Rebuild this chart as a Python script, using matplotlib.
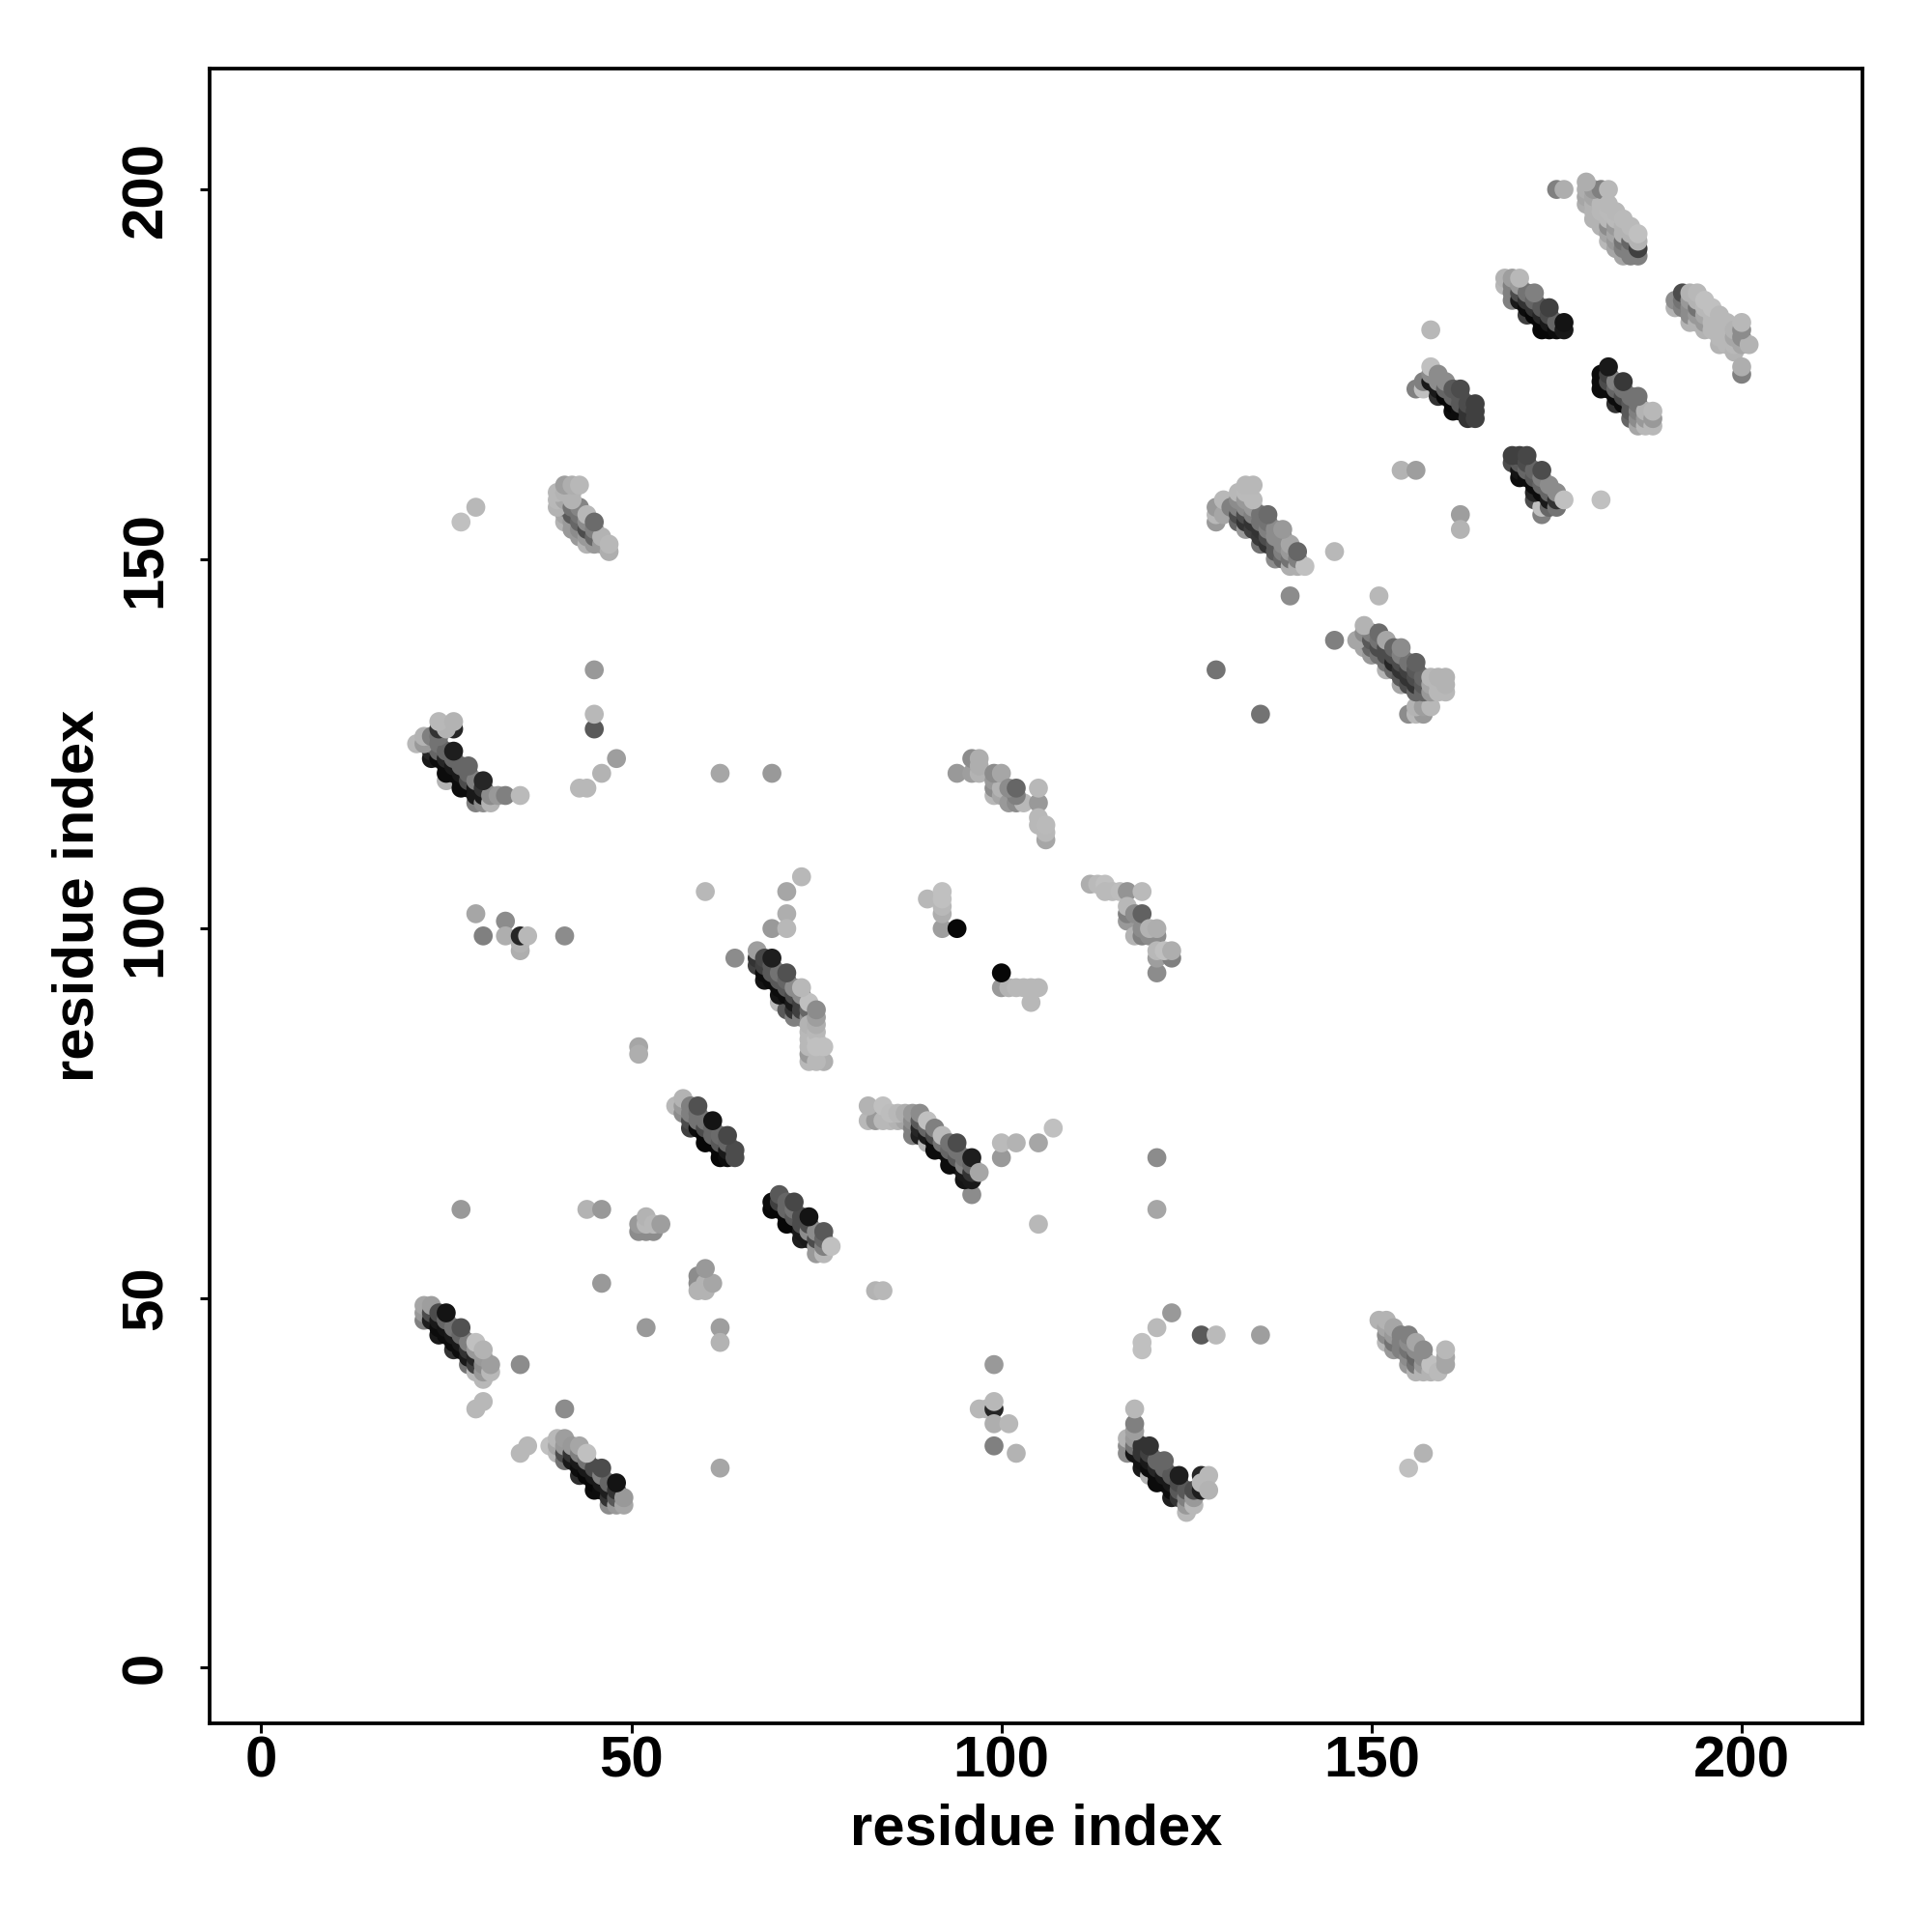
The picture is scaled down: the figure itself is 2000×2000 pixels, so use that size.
import numpy as np
import matplotlib
matplotlib.use("Agg")
import matplotlib.pyplot as plt

# contacts: (residue i, residue j, grey level), drawn in this order
pair_a = [(22,47,.5),(24,45,.1),(26,43,.2),(28,41,.45),(29,40,.72),(30,39,.72),
          (22,48,.6),(23,47,.12),(24,46,.05),(25,45,.05),(26,44,.05),(27,43,.05),(28,42,.1),(29,41,.25),(30,40,.6),
          (22,49,.65),(23,48,.3),(24,47,.1),(25,46,.08),(26,45,.1),(27,44,.1),(28,43,.2),(29,42,.15),(30,41,.55),(31,40,.72),
          (23,49,.62),(24,48,.3),(25,47,.4),(26,46,.45),(27,45,.4),(28,44,.5),(29,43,.6),(30,42,.6),(31,41,.62),
          (25,48,.08),(27,46,.32),(29,44,.75),(30,43,.7)]
pair_b = [(39,30,.75),(40,29,.72),(41,28,.45),(43,26,.18),(45,24,.05),(47,22,.55),
          (40,30,.65),(41,29,.3),(42,28,.1),(43,27,.05),(44,26,.03),(45,25,.03),(46,24,.05),(47,23,.2),(48,22,.6),
          (40,31,.72),(41,30,.6),(42,29,.2),(43,28,.1),(44,27,.1),(45,26,.1),(46,25,.1),(47,24,.12),(48,23,.35),(49,22,.65),
          (41,31,.62),(42,30,.6),(43,29,.5),(44,28,.45),(45,27,.3),(46,26,.5),(47,25,.4),(48,24,.2),(49,23,.6),
          (43,30,.65),(44,29,.75),(46,27,.3),(48,25,.08)]
pair_c = [(25,120,.7),(23,123,.1),(25,121,.05),(27,119,.05),(29,117,.5),
          (23,124,.15),(24,123,.05),(25,122,.05),(26,121,.05),(27,120,.05),(28,119,.05),(29,118,.1),(30,117,.55),
          (23,125,.45),(24,124,.4),(25,123,.15),(26,122,.1),(27,121,.1),(28,120,.3),(29,119,.1),(30,118,.1),(31,117,.7),
          (21,125,.72),(22,125,.6),(22,126,.7),(23,126,.5),(24,125,.45),(25,124,.4),(26,123,.4),(27,122,.4),(28,121,.4),(29,120,.5),(30,119,.2),(31,118,.55),
          (24,126,.45),(26,124,.12),(28,122,.4),(30,120,.15),(32,118,.6),(33,118,.5),(35,118,.73),
          (24,127,.2),(26,127,.15),(25,127,.7),(24,128,.72),(26,128,.7)]
pair_d = [(41,155,.7),(42,154,.6),(43,153,.6),(44,152,.7),
          (41,156,.65),(42,155,.6),(43,154,.55),(44,153,.6),(45,152,.6),
          (41,157,.5),(42,156,.35),(43,155,.4),(44,154,.3),(45,153,.4),(46,152,.6),(47,151,.68),
          (40,157,.7),(40,158,.72),(41,158,.65),(42,157,.45),(43,156,.45),(44,155,.55),(45,154,.5),(46,153,.7),(47,152,.72),
          (43,157,.52),(44,156,.72),(45,155,.42),
          (40,159,.72),(41,159,.7),(42,158,.7),(42,159,.7),(41,160,.62),(42,160,.68),(43,160,.72)]
pair_e = [(117,29,.55),(119,27,.1),(120,26,.7),(121,25,.05),(123,23,.12),(125,21,.72),
          (117,30,.55),(118,29,.08),(119,28,.08),(120,27,.05),(121,26,.05),(122,25,.05),(123,24,.05),(124,23,.2),(125,22,.6),
          (117,31,.7),(118,30,.45),(119,29,.2),(120,28,.1),(121,27,.15),(122,26,.1),(123,25,.1),(124,24,.35),(125,23,.5),(126,22,.72),
          (118,31,.6),(119,30,.2),(120,29,.25),(121,28,.4),(122,27,.4),(123,26,.35),(124,25,.3),(125,24,.35),(126,23,.6),
          (120,30,.2),(122,28,.4),(124,26,.12),(126,24,.3),
          (118,32,.62),(118,33,.5),(118,35,.72),(127,24,.12),(127,26,.15),(127,25,.72),(128,26,.72),(128,24,.7)]
pair_f = [(152,44,.72),(153,43,.6),(155,41,.6),(156,40,.7),
          (152,45,.55),(153,44,.45),(154,43,.5),(155,42,.55),(156,41,.45),(157,40,.7),
          (151,47,.7),(152,46,.65),(153,45,.6),(154,44,.5),(155,43,.45),(156,42,.4),(157,41,.6),(158,40,.7),
          (152,47,.7),(153,46,.65),(154,45,.5),(155,44,.55),(156,43,.55),(157,42,.55),(158,41,.75),(159,40,.73),
          (155,45,.5),(156,44,.65),(157,43,.55),(160,41,.65),(160,42,.65),(160,43,.72)]
pair_g = [(56,76,.72),(58,73,.25),(60,71,.03),(62,69,.03),
          (57,75,.55),(58,74,.3),(59,73,.05),(60,72,.03),(61,71,.03),(62,70,.03),(63,69,.05),
          (57,76,.6),(58,75,.5),(59,74,.45),(60,73,.3),(61,72,.4),(62,71,.35),(63,70,.1),(64,69,.3),
          (57,77,.7),(58,76,.5),(59,75,.45),(60,74,.45),(61,73,.4),(62,72,.42),(63,71,.4),(64,70,.3),
          (59,76,.32),(61,74,.08),(63,72,.28)]
pair_h = [(69,62,.03),(71,60,.03),(73,58,.12),(75,56,.6),
          (69,63,.05),(70,62,.03),(71,61,.03),(72,60,.03),(73,59,.1),(74,58,.1),(75,57,.6),(76,56,.72),
          (70,63,.25),(71,62,.4),(72,61,.35),(73,60,.3),(74,59,.55),(75,58,.3),(76,57,.5),
          (70,64,.35),(71,63,.4),(72,62,.45),(73,61,.3),(74,60,.3),(75,59,.55),(76,58,.4),
          (72,63,.28),(74,61,.08),(76,59,.35),(77,57,.75)]
pair_i = [(82,74,.72),(83,74,.6),(84,74,.72),(85,74,.72),(86,74,.7),(87,74,.65),(82,76,.7),(84,76,.75),(85,75,.74),(86,75,.72),(87,75,.68),
          (88,72,.5),(88,73,.5),(89,72,.12),(90,71,.7),(91,70,.05),(93,68,.05),(95,66,.08),
          (88,74,.55),(89,73,.15),(90,72,.1),(91,71,.05),(92,70,.05),(93,69,.05),(94,68,.05),(95,67,.1),(96,66,.1),
          (88,75,.6),(89,74,.35),(90,73,.4),(91,72,.3),(92,71,.45),(93,70,.4),(94,69,.35),(95,68,.5),(96,67,.2),
          (89,75,.55),(90,74,.75),(91,73,.5),(92,72,.73),(93,71,.45),(94,70,.45),(95,69,.45),(96,68,.4),
          (94,71,.3),(96,69,.12),(97,67,.65)]
pair_j = [(70,90,.72),(71,89,.35),(72,88,.5),
          (68,93,.08),(70,91,.08),(72,89,.2),(73,88,.5),
          (67,95,.25),(68,94,.05),(69,93,.05),(70,92,.05),(71,91,.05),(72,90,.1),(73,89,.25),(74,88,.55),
          (67,96,.2),(68,95,.25),(69,94,.35),(70,93,.35),(71,92,.35),(72,91,.3),(73,90,.25),(74,89,.4),
          (67,97,.62),(68,96,.28),(69,95,.35),(70,94,.45),(71,93,.4),(72,92,.55),(73,91,.55),(74,90,.75),
          (69,96,.12),(71,94,.32),(73,92,.72),
          (74,82,.72),(74,83,.6),(74,84,.72),(74,85,.72),(74,86,.72),(74,87,.7),(75,85,.75),(75,86,.72),(75,87,.68),(75,88,.62),(75,89,.55),
          (76,82,.68),(75,82,.72),(75,84,.75),(76,84,.75)]
pair_k = [(94,121,.6),(96,121,.62),(97,121,.7),(96,123,.55),(97,122,.68),(97,123,.68),
          (99,118,.72),(99,119,.55),(100,118,.65),(99,120,.6),(100,119,.7),(99,121,.55),(100,121,.65),
          (101,117,.6),(102,117,.55),(103,117,.72),(102,118,.5),(101,119,.55),(102,119,.4),
          (105,117,.6),(105,119,.72),(105,115,.72),(106,112,.65),(106,113,.72),(105,114,.72),(106,114,.73)]
pair_l = [(112,106,.68),(113,106,.73),(114,106,.75),(114,105,.73),(115,105,.73),(116,105,.74),(117,105,.58),(119,105,.73),
          (117,101,.6),(117,102,.5),(117,103,.72),(118,102,.55),(118,99,.7),(119,99,.5),(119,100,.55),(119,102,.38),
          (120,99,.55),(121,99,.55),(120,100,.7),(121,100,.68),
          (121,94,.55),(121,96,.62),(123,96,.5),(121,97,.72),(122,97,.75),(123,97,.68)]
pair_m = [(129,155,.6),(129,156,.72),(129,157,.6),(130,156,.65),(130,158,.72),
          (132,155,.4),(133,154,.6),(135,152,.45),(137,150,.55),
          (131,157,.5),(132,156,.3),(133,155,.2),(134,154,.25),(135,153,.22),(136,152,.2),(137,151,.35),(138,150,.4),(139,149,.68),
          (132,157,.5),(133,156,.3),(134,155,.2),(135,154,.2),(136,153,.3),(137,152,.35),(138,151,.5),(139,150,.45),(140,149,.68),
          (132,158,.55),(133,157,.55),(134,156,.5),(135,155,.45),(136,154,.5),(137,153,.55),(138,152,.55),(139,151,.6),(140,150,.5),(141,149,.75),
          (132,159,.72),(133,158,.6),(134,157,.6),(135,156,.45),(136,155,.45),(137,154,.55),(138,153,.55),(139,152,.65),(140,151,.4),
          (133,159,.73),(134,158,.73),(136,156,.42),(138,154,.6),(133,160,.72),(134,160,.72)]
pair_n = [(155,129,.55),(156,129,.72),(157,129,.6),(156,130,.7),(157,130,.62),(158,130,.72),
          (149,138,.65),(150,137,.6),(152,135,.7),(154,133,.65),
          (149,139,.55),(150,138,.4),(151,137,.45),(152,136,.45),(153,135,.4),(154,134,.35),(155,133,.3),(156,132,.4),
          (148,139,.65),(149,140,.55),(150,139,.35),(151,138,.3),(152,137,.3),(153,136,.15),(154,135,.2),(155,134,.2),(156,133,.2),(157,132,.4),
          (150,140,.5),(151,139,.45),(152,138,.3),(153,137,.3),(154,136,.3),(155,135,.25),(156,134,.3),(157,133,.35),(158,132,.6),
          (149,141,.7),(151,140,.42),(152,139,.65),(153,138,.4),(154,137,.5),(155,136,.45),(156,135,.35),(157,134,.4),(158,133,.65),(159,132,.72),
          (154,138,.55),(156,136,.38),(158,134,.72),(159,133,.72),(160,132,.72),(160,133,.7),(159,134,.7),(160,134,.7)]
pair_o = [(156,173,.5),(157,173,.75),
          (157,174,.5),(159,172,.2),(161,170,.05),
          (158,174,.1),(159,173,.1),(160,172,.03),(161,171,.03),(162,170,.05),(163,169,.2),
          (158,175,.55),(159,174,.55),(160,173,.4),(161,172,.4),(162,171,.35),(163,170,.2),(164,169,.25),
          (158,176,.75),(159,175,.55),(160,174,.55),(161,173,.35),(162,172,.35),(163,171,.3),(164,170,.25),
          (162,173,.3),(164,171,.25)]
pair_p = [(181,173,.05),(183,171,.2),(185,169,.4),(186,168,.65),
          (181,174,.05),(182,173,.05),(183,172,.05),(184,171,.05),(185,170,.35),(186,169,.55),(187,168,.72),
          (181,175,.05),(182,174,.3),(183,173,.4),(184,172,.3),(185,171,.35),(186,170,.5),(187,169,.6),(188,168,.72),
          (182,175,.25),(183,174,.5),(184,173,.45),(185,172,.45),(186,171,.45),(187,170,.7),(188,169,.6),
          (182,176,.1),(184,174,.22),(186,172,.45),(188,170,.72)]
pair_q = [(169,185,.5),(171,183,.25),(173,181,.03),
          (168,187,.72),(169,186,.5),(170,185,.1),(171,184,.05),(172,183,.03),(173,182,.03),(174,181,.03),
          (168,188,.7),(169,187,.5),(170,186,.3),(171,185,.2),(172,184,.2),(173,183,.15),(174,182,.1),(175,181,.05),
          (169,188,.62),(170,187,.6),(171,186,.45),(172,185,.4),(173,184,.35),(174,183,.3),(175,182,.4),(176,181,.1),
          (170,188,.72),(172,186,.5),(174,184,.25),(176,182,.08)]
pair_r = [(173,156,.5),(172,158,.3),(173,157,.75),
          (170,161,.05),(172,159,.15),(174,157,.4),
          (169,163,.3),(170,162,.08),(171,161,.05),(172,160,.05),(173,159,.05),(174,158,.1),(175,157,.45),
          (170,163,.35),(171,162,.4),(172,161,.35),(173,160,.4),(174,159,.4),(175,158,.2),
          (169,164,.25),(170,164,.25),(171,163,.3),(172,162,.4),(173,161,.5),(174,160,.55),(175,159,.55),(176,158,.75),
          (171,164,.28),(173,162,.3)]
pair_s = [(182,193,.72),(183,192,.65),(184,191,.65),
          (180,196,.7),(181,195,.7),(182,194,.65),(183,193,.6),(184,192,.5),(185,191,.5),
          (179,198,.68),(180,197,.7),(181,196,.7),(182,195,.55),(183,194,.65),(184,193,.45),(185,192,.5),(186,191,.5),
          (179,199,.65),(180,198,.7),(181,197,.72),(182,196,.72),(183,195,.6),(184,194,.7),(185,193,.4),(186,192,.25),
          (179,200,.68),(180,199,.65),(181,198,.72),(182,197,.73),(183,196,.73),(184,195,.7),(185,194,.7),(186,193,.7),
          (180,200,.6),(181,200,.5),(182,198,.72),(183,197,.72),(184,196,.73),(185,195,.73),(186,194,.75),(182,200,.72),(179,201,.68)]
pair_t = [(191,184,.7),(193,182,.7),
          (191,185,.55),(192,184,.5),(193,183,.55),(194,182,.7),(195,181,.7),(197,179,.7),
          (192,185,.45),(193,184,.55),(194,183,.6),(195,182,.6),(196,181,.72),(197,180,.72),(198,179,.72),(199,178,.7),
          (192,186,.3),(193,185,.6),(194,184,.45),(195,183,.65),(196,182,.72),(197,181,.72),(198,180,.72),(199,179,.72),
          (193,186,.7),(194,185,.7),(195,184,.72),(196,183,.72),(197,182,.72),(198,181,.72),(199,180,.65),(200,179,.65),
          (194,186,.72),(195,185,.75),(196,184,.75),(197,183,.72),(198,182,.72),(199,181,.7),(200,180,.55),(201,179,.7),
          (200,181,.55),(200,182,.72),(200,175,.5),(200,176,.68)]
scattered = [(46,52,.6),(52,46,.6),(62,46,.62),(62,44,.7),(35,41,.55),(41,35,.55),(30,36,.72),(29,35,.72),(36,30,.72),(35,29,.72),(62,27,.65),
             (59,52,.55),(59,53,.55),(60,51,.7),(59,51,.7),(60,52,.7),(61,52,.65),(60,54,.6),
             (123,48,.6),(121,46,.73),(119,44,.75),(119,43,.75),(127,45,.35),(129,45,.73),(135,45,.62),(157,29,.7),(155,27,.75),
             (45,135,.6),(45,127,.35),(45,129,.72),(48,123,.62),(46,121,.7),(44,119,.72),(43,119,.72),(62,121,.65),(69,121,.6),
             (27,155,.75),(29,157,.72),(60,105,.72),(73,107,.72),(71,105,.65),(71,102,.68),(69,100,.6),(71,100,.72),(64,96,.55),
             (29,102,.65),(30,99,.5),(33,101,.55),(33,99,.68),(35,97,.68),(35,98,.7),(35,99,.15),(36,99,.72),(41,99,.55),
             (51,84,.65),(51,83,.68),(27,62,.6),(44,62,.7),(46,62,.6),
             (51,59,.55),(52,59,.55),(53,59,.55),(51,60,.6),(52,60,.72),(52,61,.7),(53,60,.72),(54,60,.62),
             (83,51,.7),(84,51,.72),(100,69,.6),(100,71,.73),(102,71,.7),(105,71,.65),(107,73,.75),(96,64,.55),(105,60,.72),
             (121,69,.55),(121,62,.65),(90,104,.72),(92,100,.62),(92,102,.68),(92,103,.72),(92,104,.75),(92,105,.75),(94,100,.03),
             (100,92,.6),(101,92,.7),(102,92,.72),(103,92,.72),(104,90,.72),(104,92,.72),(105,92,.72),(100,94,.03),
             (99,41,.6),(97,35,.72),(98,35,.72),(99,35,.15),(99,36,.72),(99,33,.68),(101,33,.72),(99,30,.5),(102,29,.7),
             (135,129,.45),(129,135,.45),(145,139,.5),(139,145,.55),(151,145,.72),(145,151,.72),
             (154,162,.7),(156,162,.62),(162,156,.62),(162,154,.7),(181,158,.75),(158,181,.72),(175,200,.5),(176,200,.68)]

x_ticks = [0, 50, 100, 150, 200]
y_ticks = [0, 50, 100, 150, 200]

contacts = (scattered + pair_a + pair_b + pair_c + pair_d + pair_e + pair_f + pair_g + pair_h + pair_i + pair_j
            + pair_k + pair_l + pair_m + pair_n + pair_o + pair_p + pair_q + pair_r + pair_s + pair_t)
res_i, res_j, level = np.array(contacts).T

plt.rcParams["font.family"] = ["Liberation Sans", "DejaVu Sans"]
plt.rcParams["font.weight"] = "bold"

fig = plt.figure(figsize=(10, 10), dpi=200)
ax = fig.add_axes([0.10835, 0.10815, 0.8556, 0.85615])
ax.scatter(res_i, res_j, c=level, cmap="gray", vmin=0, vmax=1, s=50, linewidths=0, clip_on=False)

ax.set_xlim(-7.0, 216.3)
ax.set_ylim(-7.5, 216.3)
ax.set_xticks(x_ticks)
ax.set_yticks(y_ticks)
ax.tick_params(axis="x", length=3.5, width=1.1, labelsize=21.6, pad=1)
ax.tick_params(axis="y", length=3.5, width=1.1, labelsize=21.6, pad=10)
for lab in ax.get_yticklabels():
    lab.set_rotation(90)
    lab.set_va("center")
for side in ax.spines.values():
    side.set_linewidth(1.35)

ax.set_xlabel("residue index", fontsize=21.5, fontweight="bold", labelpad=5.5)
ax.set_ylabel("residue index", fontsize=21.5, fontweight="bold", labelpad=5.5)

fig.savefig("out.png", dpi=200, facecolor="white")
